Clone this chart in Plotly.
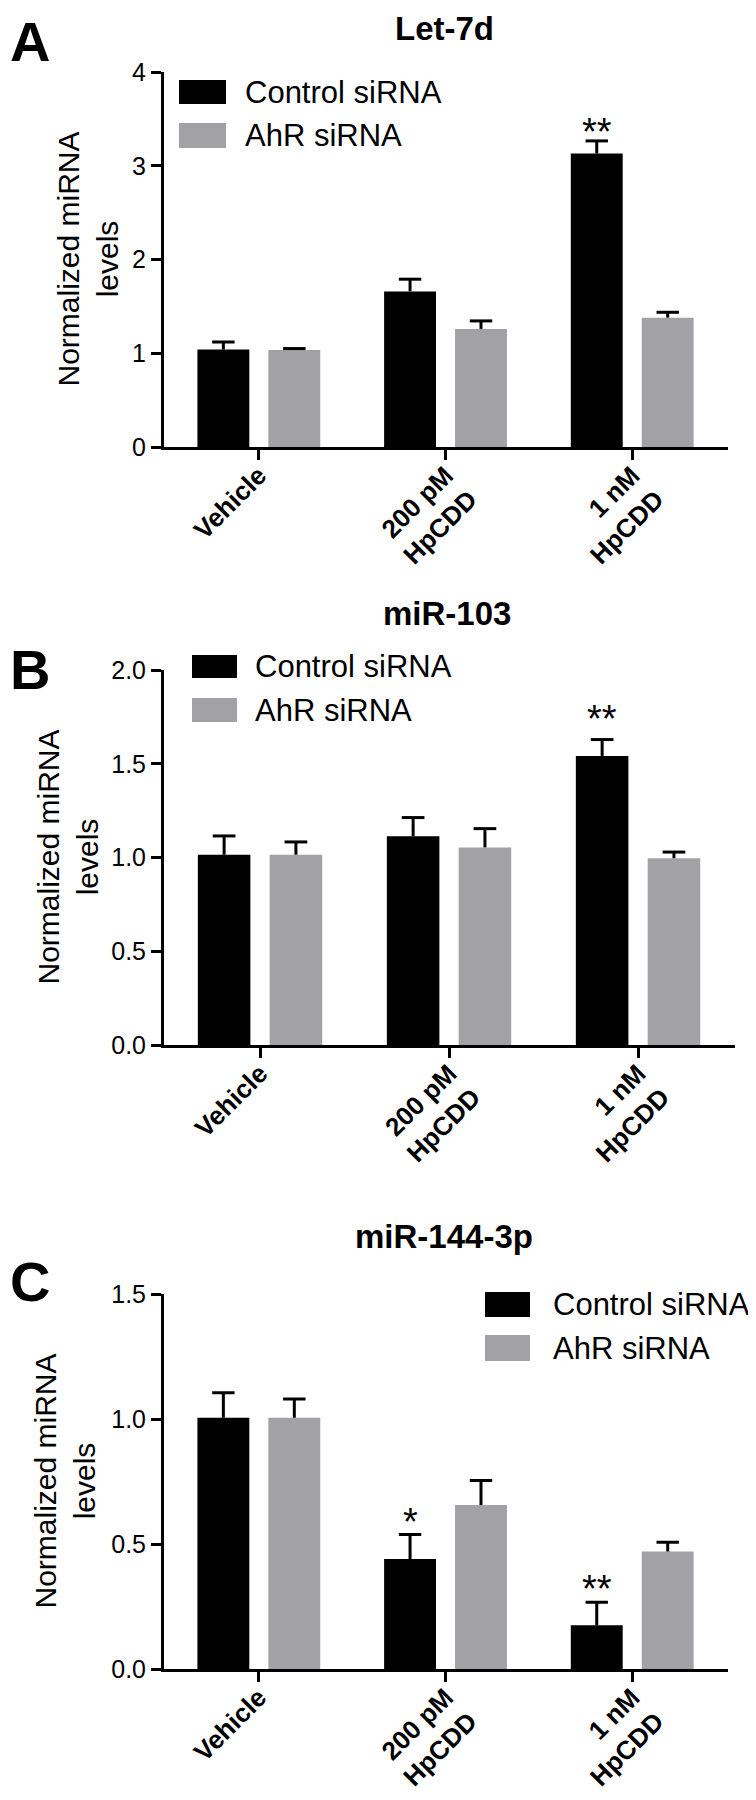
import plotly.graph_objects as go

# ---------------- data ----------------
categories = ["Vehicle", "200 pM<br>HpCDD", "1 nM<br>HpCDD"]
series_names = ["Control siRNA", "AhR siRNA"]

let7d_control = [1.04, 1.66, 3.13]
let7d_control_err = [0.08, 0.13, 0.135]
let7d_ahr = [1.035, 1.26, 1.38]
let7d_ahr_err = [0.015, 0.085, 0.057]
let7d_stars = ["", "", "**"]

mir103_control = [1.015, 1.113, 1.542]
mir103_control_err = [0.10, 0.10, 0.087]
mir103_ahr = [1.015, 1.054, 0.996]
mir103_ahr_err = [0.068, 0.10, 0.033]
mir103_stars = ["", "", "**"]

mir144_control = [1.005, 0.44, 0.175]
mir144_control_err = [0.10, 0.098, 0.092]
mir144_ahr = [1.005, 0.656, 0.47]
mir144_ahr_err = [0.075, 0.098, 0.037]
mir144_stars = ["", "*", "**"]

panel_titles = ["Let-7d", "miR-103", "miR-144-3p"]
panel_letters = ["A", "B", "C"]
y_ranges = [[0, 4], [0, 2], [0, 1.5]]
y_dticks = [1, 0.5, 0.5]
y_formats = ["d", ".1f", ".1f"]

# ---------------- style ----------------
PAGE_OFF = 8                 # default body margin of the html page
W, H = 756 - PAGE_OFF, 1800 - PAGE_OFF
BLACK = "#000000"
GRAY = "#a2a2a6"
FONT = "Arial, Liberation Sans, sans-serif"
OFF = 0.19          # bar offset from category centre (category units)
BW = 0.278          # bar width
CAP = 0.06          # half width of error cap


def px(x):
    return (x - PAGE_OFF) / W


def py(y):
    return 1 - (y - PAGE_OFF) / H


panels = [
    dict(ctrl=let7d_control, ctrl_e=let7d_control_err, ahr=let7d_ahr, ahr_e=let7d_ahr_err,
         stars=let7d_stars, xdom=[164, 728], ydom=[447, 72],
         title_y=28, letter_y=8, ytitle_x=87,
         legend=dict(x0=179, x1=226, y1=(80, 104), y2=(123, 148), tx=243)),
    dict(ctrl=mir103_control, ctrl_e=mir103_control_err, ahr=mir103_ahr, ahr_e=mir103_ahr_err,
         stars=mir103_stars, xdom=[164, 735], ydom=[1045, 670],
         title_y=613, letter_y=636, ytitle_x=67,
         legend=dict(x0=192, x1=237, y1=(655, 678), y2=(698, 722), tx=253)),
    dict(ctrl=mir144_control, ctrl_e=mir144_control_err, ahr=mir144_ahr, ahr_e=mir144_ahr_err,
         stars=mir144_stars, xdom=[164, 728], ydom=[1669, 1294],
         title_y=1236, letter_y=1248, ytitle_x=64,
         legend=dict(x0=485, x1=530, y1=(1292, 1317), y2=(1335, 1361), tx=551)),
]
star_shift = [8, 20, 12]

fig = go.Figure()
shapes = []
annotations = []

for k, p in enumerate(panels):
    xa = "x" if k == 0 else f"x{k+1}"
    ya = "y" if k == 0 else f"y{k+1}"
    xs_c = [i - OFF for i in range(len(categories))]
    xs_a = [i + OFF for i in range(len(categories))]

    fig.add_trace(go.Bar(x=xs_c, y=p["ctrl"], width=BW, marker=dict(color=BLACK, line=dict(width=0)),
                         name=series_names[0], showlegend=False, xaxis=xa, yaxis=ya))
    fig.add_trace(go.Bar(x=xs_a, y=p["ahr"], width=BW, marker=dict(color=GRAY, line=dict(width=0)),
                         name=series_names[1], showlegend=False, xaxis=xa, yaxis=ya))

    # upper-only error bars (GraphPad style)
    ex, ey = [], []
    for xs, vals, errs in ((xs_c, p["ctrl"], p["ctrl_e"]), (xs_a, p["ahr"], p["ahr_e"])):
        for xc, v, e in zip(xs, vals, errs):
            ex += [xc, xc, None, xc - CAP, xc + CAP, None]
            ey += [v, v + e, None, v + e, v + e, None]
    fig.add_trace(go.Scatter(x=ex, y=ey, mode="lines", line=dict(color=BLACK, width=3),
                             showlegend=False, hoverinfo="skip", xaxis=xa, yaxis=ya))

    # significance stars
    for xc, v, e, s in zip(xs_c, p["ctrl"], p["ctrl_e"], p["stars"]):
        if s:
            annotations.append(dict(x=xc, y=v + e, xref=xa, yref=ya, text=s, showarrow=False,
                                    yanchor="bottom", xanchor="center", yshift=star_shift[k] - 22,
                                    font=dict(family=FONT, size=38, color=BLACK)))

    xkey = "xaxis" if k == 0 else f"xaxis{k+1}"
    ykey = "yaxis" if k == 0 else f"yaxis{k+1}"
    fig.update_layout(**{
        xkey: dict(domain=[px(p["xdom"][0]), px(p["xdom"][1])], range=[-0.508, 2.513],
                   tickmode="array", tickvals=list(range(len(categories))), ticktext=categories,
                   tickangle=-45, ticks="outside", ticklen=10, tickwidth=3, tickcolor=BLACK,
                   ticklabelstandoff=-10,
                   showline=True, linewidth=3, linecolor=BLACK, showgrid=False, zeroline=False,
                   anchor=ya, fixedrange=True, automargin=False,
                   tickfont=dict(family=FONT, size=26, color=BLACK, weight="bold")),
        ykey: dict(domain=[py(p["ydom"][0]), py(p["ydom"][1])], range=y_ranges[k],
                   dtick=y_dticks[k], tickformat=y_formats[k],
                   ticks="outside", ticklen=10, tickwidth=3, tickcolor=BLACK,
                   showline=True, linewidth=3, linecolor=BLACK, showgrid=False, zeroline=False,
                   anchor=xa, fixedrange=True, automargin=False,
                   tickfont=dict(family=FONT, size=25, color=BLACK)),
    })

    # title
    annotations.append(dict(x=px((p["xdom"][0] + p["xdom"][1]) / 2 - 2), y=py(p["title_y"]),
                            xref="paper", yref="paper", text=panel_titles[k], showarrow=False,
                            xanchor="center", yanchor="middle",
                            font=dict(family=FONT, size=33, color=BLACK, weight="bold")))
    # panel letter
    annotations.append(dict(x=px(PAGE_OFF), y=py(p["letter_y"]), xref="paper", yref="paper",
                            text=panel_letters[k], showarrow=False, xanchor="left", yanchor="top",
                            font=dict(family=FONT, size=56, color=BLACK, weight="bold")))
    # y title
    annotations.append(dict(x=px(p["ytitle_x"]), y=py(sum(p["ydom"]) / 2), xref="paper", yref="paper",
                            text="Normalized miRNA<br>levels", showarrow=False, textangle=-90,
                            xanchor="center", yanchor="middle", align="center",
                            font=dict(family=FONT, size=30, color=BLACK)))
    # legend (drawn manually for large swatches)
    lg = p["legend"]
    for (yy, col, name) in ((lg["y1"], BLACK, series_names[0]), (lg["y2"], GRAY, series_names[1])):
        shapes.append(dict(type="rect", xref="paper", yref="paper", x0=px(lg["x0"]), x1=px(lg["x1"]),
                           y0=py(yy[1]), y1=py(yy[0]), fillcolor=col, line=dict(width=0)))
        annotations.append(dict(x=px(lg["tx"]), y=py((yy[0] + yy[1]) / 2), xref="paper", yref="paper",
                                text=name, showarrow=False, xanchor="left", yanchor="middle",
                                font=dict(family=FONT, size=31, color=BLACK)))

fig.update_layout(width=W, height=H, margin=dict(l=0, r=0, t=0, b=0, autoexpand=False),
                  paper_bgcolor="white", plot_bgcolor="white",
                  barmode="overlay", shapes=shapes, annotations=annotations,
                  showlegend=False)

fig.write_html("out.html")
